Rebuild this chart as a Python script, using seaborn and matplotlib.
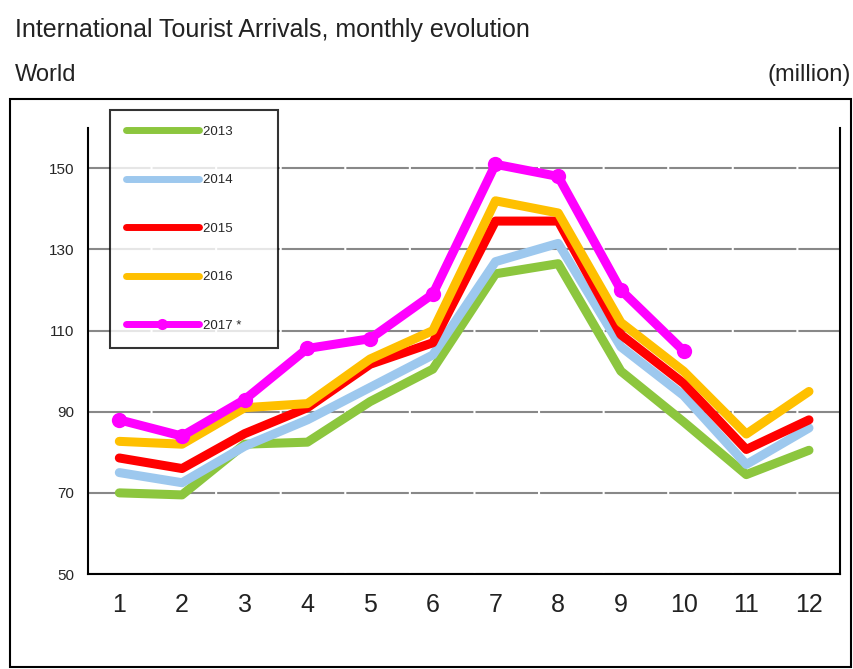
import matplotlib
matplotlib.use("Agg")
import matplotlib.pyplot as plt
import seaborn as sns
import pandas as pd
from matplotlib.patches import Rectangle

months = list(range(1, 13))
years = ["2013", "2014", "2015", "2016", "2017 *"]
v2013 = [70, 69.5, 82, 82.5, 92.5, 100.5, 124, 126.5, 100, 87.5, 74.5, 80.5]
v2014 = [75, 72.5, 81.5, 88, 96, 104, 127, 131.5, 106, 94, 77, 86]
v2015 = [78.6, 76, 84.6, 91, 101.7, 107, 137, 137, 109, 97, 80.7, 88]
v2016 = [82.7, 82, 91, 92, 103, 110, 142, 139, 112, 100, 84.5, 95]
v2017 = [88, 84, 93, 105.6, 108, 119, 151, 148, 120, 105]
colors = ["#8CC63E", "#9DC8EE", "#FF0000", "#FFC000", "#FF00FF"]

series = [v2013, v2014, v2015, v2016, v2017]
rows = []
for yr, vals in zip(years, series):
    for m, v in zip(months, vals):
        rows.append({"month": m, "arrivals": v, "year": yr})
df = pd.DataFrame(rows)

sns.set_style("white")
plt.rcParams['font.family'] = ['Liberation Sans', 'DejaVu Sans']

fig = plt.figure(figsize=(8.54, 6.69), dpi=100)
ax = fig.add_axes([0.103, 0.142, 0.881, 0.667])

for yr, col in zip(years, colors):
    sub = df[df["year"] == yr]
    mk = "o" if yr.startswith("2017") else None
    # trailing spaces widen the legend box like the original
    sns.lineplot(data=sub, x="month", y="arrivals", color=col, linewidth=6.5,
                 marker=mk, markersize=11, markeredgewidth=0, label=yr + "      ", ax=ax,
                 solid_capstyle="round", zorder=3)

ax.set_xlim(0.5, 12.5)
ax.set_ylim(50, 160)
ax.set_yticks([50, 70, 90, 110, 130, 150])
ax.set_xticks(months)
ax.set_xticks([0.5, 12.5], minor=True)
ax.set_xlabel("")
ax.set_ylabel("")
ax.tick_params(axis="x", which="major", length=0, labelsize=18, pad=14, colors="#222222")
ax.tick_params(axis="x", which="minor", length=8, width=1.5, direction="out", color="black")
ax.tick_params(axis="y", length=6, width=1.3, direction="out", labelsize=11, pad=4, color="black")
ax.yaxis.grid(True, color="#888888", linewidth=1.5, linestyle=(0, (30, 1)))
ax.set_axisbelow(True)
for s in ["left", "bottom", "right"]:
    ax.spines[s].set_visible(True)
    ax.spines[s].set_color("black")
    ax.spines[s].set_linewidth(1.5)
ax.spines["top"].set_visible(False)

leg = ax.legend(loc="upper left", bbox_to_anchor=(0.129, 0.836), bbox_transform=fig.transFigure,
                frameon=True, fancybox=False, fontsize=9.5, labelspacing=2.75, handlelength=5.5,
                handletextpad=0.3, borderpad=1.2, borderaxespad=0)
leg.get_frame().set_edgecolor("black")
leg.get_frame().set_linewidth(1.5)
for h in leg.get_lines():
    h.set_linewidth(5)
    h.set_markersize(8)

fig.add_artist(Rectangle((0.012, 0.003), 0.985, 0.849, transform=fig.transFigure,
                         fill=False, edgecolor="black", linewidth=1.5))
fig.text(0.018, 0.955, "International Tourist Arrivals, monthly evolution", fontsize=18,
         ha="left", va="center", color="#222222")
fig.text(0.018, 0.888, "World", fontsize=17, ha="left", va="center", color="#222222")
fig.text(0.996, 0.888, "(million)", fontsize=17, ha="right", va="center", color="#222222")

fig.savefig("out.png", dpi=100)
